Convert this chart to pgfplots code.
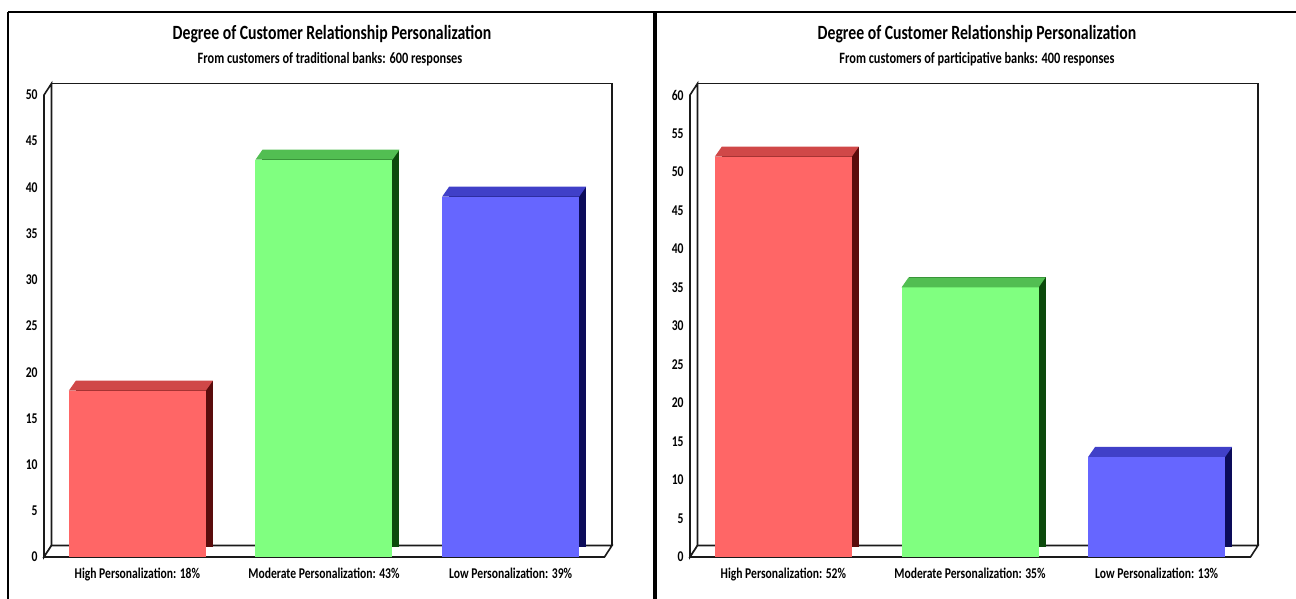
\documentclass[border=0pt]{standalone}
\usepackage{pgfplots}
\pgfplotsset{compat=1.18}
\usepackage{pgfplotstable}
\usepackage{fontspec}
\setmainfont{Carlito}[FakeStretch=0.78]

% bar colours: front face, lid, right side
\definecolor{redfront}{HTML}{FF6666}
\definecolor{redtop}{HTML}{D04848}
\definecolor{redside}{HTML}{5A0C0C}
\definecolor{greenfront}{HTML}{80FF80}
\definecolor{greentop}{HTML}{52BE52}
\definecolor{greenside}{HTML}{0C4A0C}
\definecolor{bluefront}{HTML}{6666FF}
\definecolor{bluetop}{HTML}{4040C8}
\definecolor{blueside}{HTML}{0C0C5A}
\definecolor{frameline}{HTML}{1A1A1A}

% lid of a bar: parallelogram sitting on the bar's top edge
\pgfdeclareplotmark{barlid}{%
  \pgfpathmoveto{\pgfqpoint{-34.25pt}{0pt}}%
  \pgfpathlineto{\pgfqpoint{34.25pt}{0pt}}%
  \pgfpathlineto{\pgfqpoint{37.75pt}{5pt}}%
  \pgfpathlineto{\pgfqpoint{-30.75pt}{5pt}}%
  \pgfpathclose
  \pgfusepath{fill}}

\pgfplotstableread{
idx value
0 18
1 43
2 39
}\traditional

\pgfplotstableread{
idx value
0 52
1 35
2 13
}\participative

\pgfplotsset{
  panel/.style={
    scale only axis, width=280pt, height=231pt, anchor=south west,
    xmin=-0.5, xmax=2.5, ymin=0, clip=false,
    axis line style={draw=none}, major tick length=0pt,
    xtick={0,1,2},
    tick label style={font=\fontsize{7.45}{9}\selectfont\bfseries},
    yticklabel style={anchor=east, inner sep=0pt, xshift=-3pt},
    xticklabel style={anchor=north, inner sep=0pt, yshift=-5.5pt},
    /pgf/number format/assume math mode=true,
  },
  side/.style={ybar, bar width=68.5pt, bar shift=3.5pt, yshift=5pt, fill=#1, draw=none},
  face/.style={ybar, bar width=68.5pt, bar shift=0pt, fill=#1, draw=none},
  lid/.style={only marks, mark=barlid, mark options={fill=#1, draw=none}},
  cat0/.style={restrict x to domain=-0.2:0.2},
  cat1/.style={restrict x to domain=0.8:1.2},
  cat2/.style={restrict x to domain=1.8:2.2},
}

\begin{document}
\begin{tikzpicture}
\useasboundingbox (0,0) rectangle (648pt,299.5pt);

\begin{scope}[x=0.5pt,y=-0.5pt,yshift=299.5pt]
  % outer rules and divider
  \draw[black, line width=1pt] (8,12) -- (1296,12);
  \draw[black, line width=1pt] (8,12) -- (8,599);
  \draw[black, line width=1.8pt] (655,12) -- (655,599);

  % 3D frames: back wall, left wall, floor
  \foreach \dx in {0,646} {
    \begin{scope}[xshift=\dx*0.5pt]
      \draw[frameline, line width=0.8pt] (51.5,83.5) rectangle (612,545.5);
      \draw[frameline, line width=0.8pt, fill=white]
        (44,95) -- (51.5,83.5) -- (51.5,545.5) -- (44,557) -- cycle;
      \draw[frameline, line width=0.8pt, fill=white]
        (44,557) -- (51.5,545.5) -- (612,545.5) -- (604.5,557) -- cycle;
    \end{scope}
  }

  % titles
  \node[anchor=base, font=\fontsize{10.1}{12}\selectfont\bfseries] at (332,40)
    {Degree of Customer Relationship Personalization};
  \node[anchor=base, font=\fontsize{7.9}{9}\selectfont\bfseries] at (330,64)
    {From customers of traditional banks: 600 responses};
  \node[anchor=base, font=\fontsize{10.1}{12}\selectfont\bfseries] at (977,40)
    {Degree of Customer Relationship Personalization};
  \node[anchor=base, font=\fontsize{7.9}{9}\selectfont\bfseries] at (977,64)
    {From customers of participative banks: 400 responses};
\end{scope}

% traditional banks
\begin{axis}[panel, at={(22pt,21pt)}, ymax=50, ytick={0,5,...,50},
  xticklabels={High Personalization: 18\%, Moderate Personalization: 43\%, Low Personalization: 39\%}]
  \addplot[side=redside, cat0] table[x=idx, y=value] {\traditional};
  \addplot[face=redfront, cat0] table[x=idx, y=value] {\traditional};
  \addplot[lid=redtop, cat0] table[x=idx, y=value] {\traditional};
  \addplot[side=greenside, cat1] table[x=idx, y=value] {\traditional};
  \addplot[face=greenfront, cat1] table[x=idx, y=value] {\traditional};
  \addplot[lid=greentop, cat1] table[x=idx, y=value] {\traditional};
  \addplot[side=blueside, cat2] table[x=idx, y=value] {\traditional};
  \addplot[face=bluefront, cat2] table[x=idx, y=value] {\traditional};
  \addplot[lid=bluetop, cat2] table[x=idx, y=value] {\traditional};
\end{axis}

% participative banks
\begin{axis}[panel, at={(345pt,21pt)}, ymax=60, ytick={0,5,...,60},
  xticklabels={High Personalization: 52\%, Moderate Personalization: 35\%, Low Personalization: 13\%}]
  \addplot[side=redside, cat0] table[x=idx, y=value] {\participative};
  \addplot[face=redfront, cat0] table[x=idx, y=value] {\participative};
  \addplot[lid=redtop, cat0] table[x=idx, y=value] {\participative};
  \addplot[side=greenside, cat1] table[x=idx, y=value] {\participative};
  \addplot[face=greenfront, cat1] table[x=idx, y=value] {\participative};
  \addplot[lid=greentop, cat1] table[x=idx, y=value] {\participative};
  \addplot[side=blueside, cat2] table[x=idx, y=value] {\participative};
  \addplot[face=bluefront, cat2] table[x=idx, y=value] {\participative};
  \addplot[lid=bluetop, cat2] table[x=idx, y=value] {\participative};
\end{axis}
\end{tikzpicture}
\end{document}
